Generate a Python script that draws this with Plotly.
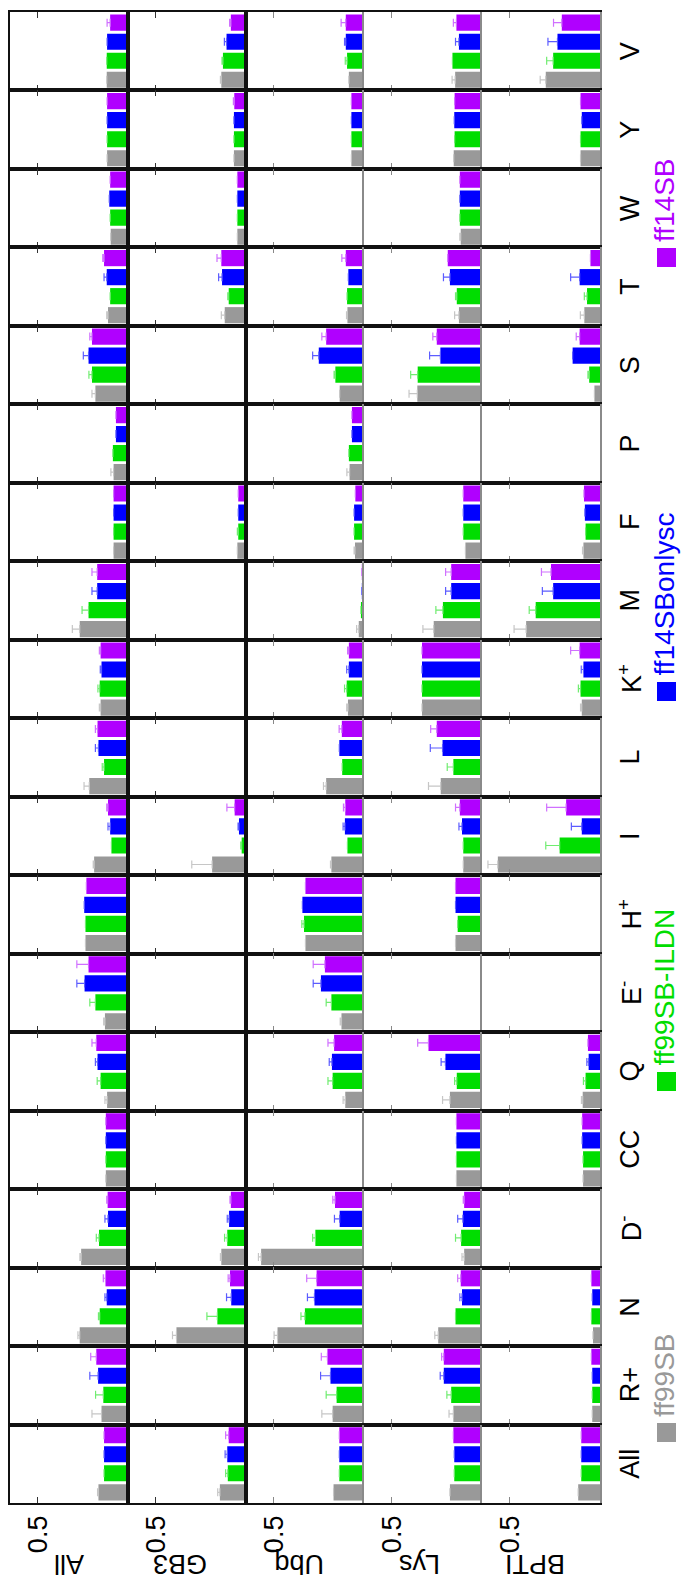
import plotly.graph_objects as go
from plotly.subplots import make_subplots

# Residue types (bottom to top) and proteins (left to right)
residues = ["All", "R+", "N", "D<sup>-</sup>", "CC", "Q", "E<sup>-</sup>", "H<sup>+</sup>",
            "I", "L", "K<sup>+</sup>", "M", "F", "P", "S", "T", "W", "Y", "V"]
proteins = ["All", "GB3", "Ubq", "Lys", "BPTI"]
force_fields = ["ff99SB", "ff99SB-ILDN", "ff14SBonlysc", "ff14SB"]
tick_values = [0.5]
tick_labels = ["0.5"]

_ = None
# One row per protein, one entry per residue type (same order as `residues`)
ff99sb = [
    [0.164, 0.147, 0.268, 0.260, 0.123, 0.116, 0.128, 0.236, 0.188, 0.215, 0.152, 0.268, 0.080, 0.080, 0.181, 0.111, 0.096, 0.116, 0.118],
    [0.145, _, 0.386, 0.137, _, _, _, _, 0.188, _, _, _, 0.048, _, _, 0.118, 0.048, 0.067, 0.137],
    [0.169, 0.174, 0.480, 0.571, _, 0.104, 0.125, 0.325, 0.181, 0.210, 0.089, 0.029, 0.050, 0.080, 0.135, 0.092, _, 0.070, 0.084],
    [0.178, 0.159, 0.243, 0.099, 0.142, 0.178, _, 0.147, 0.104, 0.229, 0.333, 0.268, 0.092, _, 0.359, 0.128, 0.118, 0.157, 0.149],
    [0.121, 0.043, 0.039, _, 0.094, 0.096, _, _, 0.567, _, 0.101, 0.410, 0.092, _, 0.031, 0.087, _, 0.108, 0.301],
]
ff99sb_err = [
    [0.005, 0.053, 0.010, 0.007, 0, 0.012, 0.007, 0, 0.005, 0.029, 0.007, 0.041, 0, 0.015, 0.019, 0.007, 0, 0, 0],
    [0.012, _, 0.022, 0.005, _, _, _, _, 0.113, _, _, _, 0, _, _, 0.019, 0, 0, 0.005],
    [0, 0.060, 0.019, 0.015, _, 0.012, 0.007, 0, 0.005, 0.015, 0.007, 0.012, 0.005, 0.015, 0, 0.005, _, 0, 0],
    [0, 0.024, 0.019, 0.012, 0, 0.041, _, 0, 0, 0.068, 0, 0.060, 0, _, 0.046, 0.024, 0.005, 0, 0.017],
    [0, 0, 0, _, 0, 0.007, _, _, 0.055, _, 0.007, 0.067, 0.005, _, 0, 0.022, _, 0, 0.031],
]
ff99sb_ildn = [
    [0.133, 0.137, 0.157, 0.161, 0.123, 0.152, 0.181, 0.236, 0.092, 0.133, 0.157, 0.219, 0.080, 0.084, 0.200, 0.099, 0.099, 0.116, 0.118],
    [0.101, _, 0.159, 0.104, _, _, _, _, 0.024, _, _, _, 0.043, _, _, 0.096, 0.048, 0.067, 0.128],
    [0.137, 0.152, 0.328, 0.270, _, 0.174, 0.181, 0.333, 0.092, 0.121, 0.096, 0.017, 0.055, 0.084, 0.159, 0.094, _, 0.070, 0.094],
    [0.154, 0.171, 0.147, 0.116, 0.142, 0.140, _, 0.135, 0.104, 0.159, 0.333, 0.217, 0.104, _, 0.357, 0.140, 0.123, 0.152, 0.164],
    [0.104, 0.043, 0.048, _, 0.094, 0.080, _, _, 0.224, _, 0.108, 0.357, 0.080, _, 0.060, 0.072, _, 0.108, 0.260],
]
ff99sb_ildn_err = [
    [0, 0.043, 0.007, 0.015, 0, 0.019, 0.031, 0, 0, 0.010, 0.010, 0.036, 0, 0, 0.017, 0, 0, 0, 0],
    [0.012, _, 0.058, 0.015, _, _, _, _, 0.005, _, _, _, 0.005, _, _, 0.005, 0, 0, 0.005],
    [0, 0.058, 0.022, 0.015, _, 0.026, 0.029, 0.012, 0, 0, 0.012, 0, 0, 0, 0.007, 0, _, 0, 0.010],
    [0, 0.024, 0, 0.031, 0, 0.012, _, 0, 0, 0.034, 0, 0.039, 0, _, 0.039, 0.007, 0, 0, 0],
    [0, 0, 0, _, 0, 0.012, _, _, 0.077, _, 0.012, 0.036, 0, _, 0.007, 0.015, _, 0, 0.036],
]
ff14sb_onlysc = [
    [0.133, 0.166, 0.118, 0.111, 0.123, 0.169, 0.241, 0.243, 0.099, 0.164, 0.147, 0.171, 0.080, 0.067, 0.219, 0.118, 0.104, 0.116, 0.116],
    [0.104, _, 0.082, 0.094, _, _, _, _, 0.039, _, _, _, 0.043, _, _, 0.133, 0.048, 0.067, 0.108],
    [0.137, 0.186, 0.275, 0.135, _, 0.178, 0.239, 0.342, 0.106, 0.137, 0.084, 0.012, 0.055, 0.067, 0.251, 0.087, _, 0.070, 0.101],
    [0.154, 0.212, 0.111, 0.106, 0.142, 0.203, _, 0.147, 0.111, 0.219, 0.333, 0.171, 0.104, _, 0.231, 0.178, 0.123, 0.154, 0.128],
    [0.104, 0.043, 0.043, _, 0.099, 0.063, _, _, 0.101, _, 0.092, 0.260, 0.084, _, 0.152, 0.113, _, 0.101, 0.236],
]
ff14sb_onlysc_err = [
    [0, 0.046, 0.010, 0.017, 0, 0.012, 0.043, 0, 0.012, 0.017, 0.007, 0.029, 0, 0, 0.029, 0.015, 0, 0, 0],
    [0.012, _, 0.026, 0.010, _, _, _, _, 0.005, _, _, _, 0, _, _, 0.019, 0, 0, 0.012],
    [0, 0.055, 0.039, 0.029, _, 0.015, 0.043, 0, 0.010, 0, 0.012, 0, 0, 0, 0.034, 0, _, 0, 0.007],
    [0, 0.020, 0.012, 0.029, 0, 0.024, _, 0, 0.017, 0.068, 0, 0.031, 0, _, 0.060, 0.036, 0, 0, 0.019],
    [0, 0, 0, _, 0, 0.010, _, _, 0.058, _, 0.012, 0.060, 0, _, 0, 0.050, _, 0, 0.053],
]
ff14sb = [
    [0.133, 0.176, 0.125, 0.113, 0.123, 0.176, 0.219, 0.231, 0.111, 0.169, 0.152, 0.171, 0.080, 0.067, 0.200, 0.133, 0.099, 0.116, 0.099],
    [0.096, _, 0.089, 0.084, _, _, _, _, 0.063, _, _, _, 0.043, _, _, 0.137, 0.048, 0.065, 0.084],
    [0.137, 0.203, 0.263, 0.161, _, 0.166, 0.217, 0.325, 0.104, 0.123, 0.084, 0.012, 0.048, 0.067, 0.210, 0.101, _, 0.070, 0.101],
    [0.159, 0.212, 0.118, 0.099, 0.142, 0.297, _, 0.147, 0.123, 0.251, 0.333, 0.171, 0.104, _, 0.251, 0.190, 0.123, 0.152, 0.142],
    [0.104, 0.048, 0.048, _, 0.099, 0.067, _, _, 0.188, _, 0.113, 0.272, 0.089, _, 0.113, 0.053, _, 0.108, 0.212],
]
ff14sb_err = [
    [0, 0.031, 0.012, 0.005, 0, 0.024, 0.065, 0, 0.007, 0.012, 0.007, 0.029, 0, 0, 0.012, 0.007, 0, 0, 0.017],
    [0.017, _, 0.010, 0.005, _, _, _, _, 0.043, _, _, _, 0, _, _, 0.024, 0, 0.005, 0.007],
    [0, 0.034, 0.055, 0.012, _, 0.034, 0.065, 0, 0.010, 0.015, 0.007, 0, 0, 0, 0.024, 0.022, _, 0, 0.026],
    [0, 0.012, 0.017, 0.005, 0, 0.060, _, 0, 0.024, 0.034, 0, 0.031, 0, _, 0.022, 0, 0, 0, 0.017],
    [0, 0, 0, _, 0, 0, _, _, 0.108, _, 0.050, 0.053, 0, _, 0.019, 0, _, 0, 0.046],
]

series_values = [ff99sb, ff99sb_ildn, ff14sb_onlysc, ff14sb]
series_errors = [ff99sb_err, ff99sb_ildn_err, ff14sb_onlysc_err, ff14sb_err]
bar_colors = ["#999999", "#00dd00", "#0000ff", "#b000ff"]
err_colors = ["#c6c6c6", "#70ec70", "#5c5cff", "#d070ff"]

FONT = "Liberation Sans, Arial, Helvetica, sans-serif"
W, H = 682, 1585
ML, MR, MT, MB = 10, 82, 12, 82
PW, PH = W - ML - MR, H - MT - MB


def px_x(px):
    return (px - ML) / PW


def px_y(py):
    return (H - MB - py) / PH


n_res = len(residues)
n_prot = len(proteins)
fig = make_subplots(rows=n_res, cols=n_prot, horizontal_spacing=0, vertical_spacing=0)

for ci in range(n_prot):
    for ri, res in enumerate(residues):
        row = n_res - ri
        for si in range(len(force_fields)):
            v = series_values[si][ci][ri]
            e = series_errors[si][ci][ri]
            fig.add_trace(go.Bar(
                x=[v], y=[res], orientation="h", name=force_fields[si],
                marker=dict(color=bar_colors[si], line_width=0),
                error_x=dict(type="data", symmetric=False,
                             array=[e if e else None],
                             arrayminus=[0 if e else None],
                             color=err_colors[si], thickness=1.2, width=4),
                showlegend=False, hoverinfo="x+name",
            ), row=row, col=ci + 1)

dark_cols = {1, 2}
for ci in range(1, n_prot + 1):
    tickc = "#333333" if ci in dark_cols else "#888888"
    for row in range(1, n_res + 1):
        fig.update_xaxes(
            row=row, col=ci, range=[0.655, 0], tickvals=tick_values, ticktext=tick_labels,
            ticks="inside", ticklen=6, tickwidth=1, tickcolor=tickc,
            showline=True, linecolor="#111111", linewidth=1.6, mirror="ticks",
            showgrid=False, zeroline=False, fixedrange=True,
            showticklabels=(row == n_res), tickangle=-90,
            tickfont=dict(family=FONT, size=27, color="black"),
        )
        fig.update_yaxes(
            row=row, col=ci, type="category", showgrid=False, zeroline=False, ticks="",
            showline=True, linewidth=1.6,
            linecolor="#111111" if ci <= 3 else "#8a8a8a",
            mirror=(ci in (1, 2, 5)),
            side="right" if ci == n_prot else "left",
            showticklabels=False, fixedrange=True,
        )

annotations = []

# residue-type labels to the right of the last column, centred on each row
for ri, res in enumerate(residues):
    row = n_res - ri
    idx = (row - 1) * n_prot + n_prot
    annotations.append(dict(
        text=res, x=px_x(630), xref="paper", y=res, yref=f"y{idx}",
        xanchor="center", yanchor="middle", textangle=-90, showarrow=False,
        font=dict(family=FONT, size=27, color="black"),
    ))

# protein names beneath each column, turned upside down
title_px = [69, 180, 299, 419, 535]
for name, cx in zip(proteins, title_px):
    annotations.append(dict(
        text=name, x=px_x(cx), y=px_y(1564), xref="paper", yref="paper",
        xanchor="center", yanchor="middle", textangle=180, showarrow=False,
        font=dict(family=FONT, size=27, color="black"),
    ))

# legend: coloured squares with vertical labels
legend_square_top = [1423, 1072, 682, 248]
shapes = []
for name, col, top in zip(force_fields, bar_colors, legend_square_top):
    shapes.append(dict(type="rect", xref="paper", yref="paper",
                       x0=px_x(657), x1=px_x(676), y0=px_y(top + 19), y1=px_y(top),
                       fillcolor=col, line=dict(width=0)))
    annotations.append(dict(
        text=name, x=px_x(664), y=px_y(top - 5), xref="paper", yref="paper",
        xanchor="center", yanchor="bottom", textangle=-90, showarrow=False,
        font=dict(family=FONT, size=28, color=col), borderpad=0,
    ))

fig.update_layout(
    width=W, height=H, margin=dict(l=ML, r=MR, t=MT, b=MB),
    barmode="group", bargap=0.03, bargroupgap=0.15,
    plot_bgcolor="white", paper_bgcolor="white",
    font=dict(family=FONT, size=27, color="black"),
    annotations=annotations, shapes=shapes, showlegend=False,
)

fig.write_html("out.html")
